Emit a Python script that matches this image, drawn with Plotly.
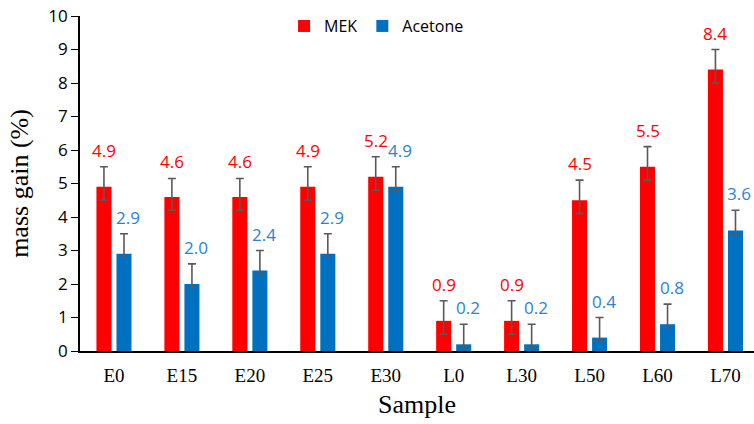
import plotly.graph_objects as go

# Sample names and mass gain (%) for each solvent
samples = ["E0", "E15", "E20", "E25", "E30", "L0", "L30", "L50", "L60", "L70"]
mek = [4.9, 4.6, 4.6, 4.9, 5.2, 0.9, 0.9, 4.5, 5.5, 8.4]
acetone = [2.9, 2.0, 2.4, 2.9, 4.9, 0.2, 0.2, 0.4, 0.8, 3.6]

# Error bar extents (upper / lower)
mek_err_plus = [0.6, 0.55, 0.55, 0.6, 0.6, 0.6, 0.6, 0.6, 0.6, 0.6]
mek_err_minus = [0.4, 0.4, 0.4, 0.4, 0.4, 0.4, 0.4, 0.4, 0.4, 0.4]
ace_err_plus = [0.6, 0.6, 0.6, 0.6, 0.6, 0.6, 0.6, 0.6, 0.6, 0.6]
ace_err_minus = [0.1, 0.1, 0.1, 0.1, 0.1, 0.1, 0.1, 0.1, 0.1, 0.1]

RED = "#FF0000"
BLUE = "#0070C0"
BLUE_TXT = "#2A82D2"
ERR = "#595959"
SANS = "Open Sans"
SERIF = "Liberation Serif"

fig = go.Figure()
fig.add_trace(go.Bar(
    name="MEK", x=samples, y=mek, marker=dict(color=RED, line=dict(width=0)),
    error_y=dict(type="data", symmetric=False, array=mek_err_plus,
                 arrayminus=mek_err_minus, color=ERR, thickness=1.6, width=4),
))
fig.add_trace(go.Bar(
    name="Acetone", x=samples, y=acetone, marker=dict(color=BLUE, line=dict(width=0)),
    error_y=dict(type="data", symmetric=False, array=ace_err_plus,
                 arrayminus=ace_err_minus, color=ERR, thickness=1.6, width=4),
))

BARGAP = 0.41
GROUPGAP = 0.25
slot = (1 - BARGAP) / 2
offset = slot / 2

annotations = []
for i, (m, mp) in enumerate(zip(mek, mek_err_plus)):
    annotations.append(dict(
        x=i - offset, y=m + mp, xref="x", yref="y", text=f"{m:.1f}",
        showarrow=False, yanchor="bottom", yshift=3,
        font=dict(family=SANS, size=17, color=RED),
    ))
for i, (a, ap) in enumerate(zip(acetone, ace_err_plus)):
    annotations.append(dict(
        x=i + offset, y=a + ap, xref="x", yref="y", text=f"{a:.1f}",
        showarrow=False, yanchor="bottom", yshift=3, xshift=4,
        font=dict(family=SANS, size=17, color=BLUE_TXT),
    ))

fig.update_layout(
    width=754, height=424,
    margin=dict(l=80, r=0, t=16, b=73),
    paper_bgcolor="white", plot_bgcolor="white",
    barmode="group", bargap=BARGAP, bargroupgap=GROUPGAP,
    showlegend=True,
    legend=dict(orientation="h", x=0.44, xanchor="center", y=0.97, yanchor="middle",
                font=dict(family=SANS, size=16, color="#000000"),
                bgcolor="rgba(0,0,0,0)", itemwidth=30, traceorder="normal"),
    annotations=annotations,
    xaxis=dict(
        type="category", range=[-0.5, 9.42],
        showline=True, linecolor="#000000", linewidth=1.6,
        ticks="", showgrid=False, zeroline=False, ticklabelstandoff=6,
        tickfont=dict(family=SERIF, size=19, color="#000000"),
        title=dict(text="Sample", font=dict(family=SERIF, size=26, color="#000000"),
                   standoff=10),
    ),
    yaxis=dict(
        range=[0, 10], dtick=1,
        showline=True, linecolor="#000000", linewidth=1.6,
        ticks="outside", ticklen=7, tickwidth=1.4, tickcolor="#000000",
        showgrid=False, zeroline=False,
        tickfont=dict(family=SANS, size=17, color="#000000"),
        title=dict(text="mass gain (%)", font=dict(family=SERIF, size=26, color="#000000"),
                   standoff=12),
    ),
)

fig.write_html("out.html")
